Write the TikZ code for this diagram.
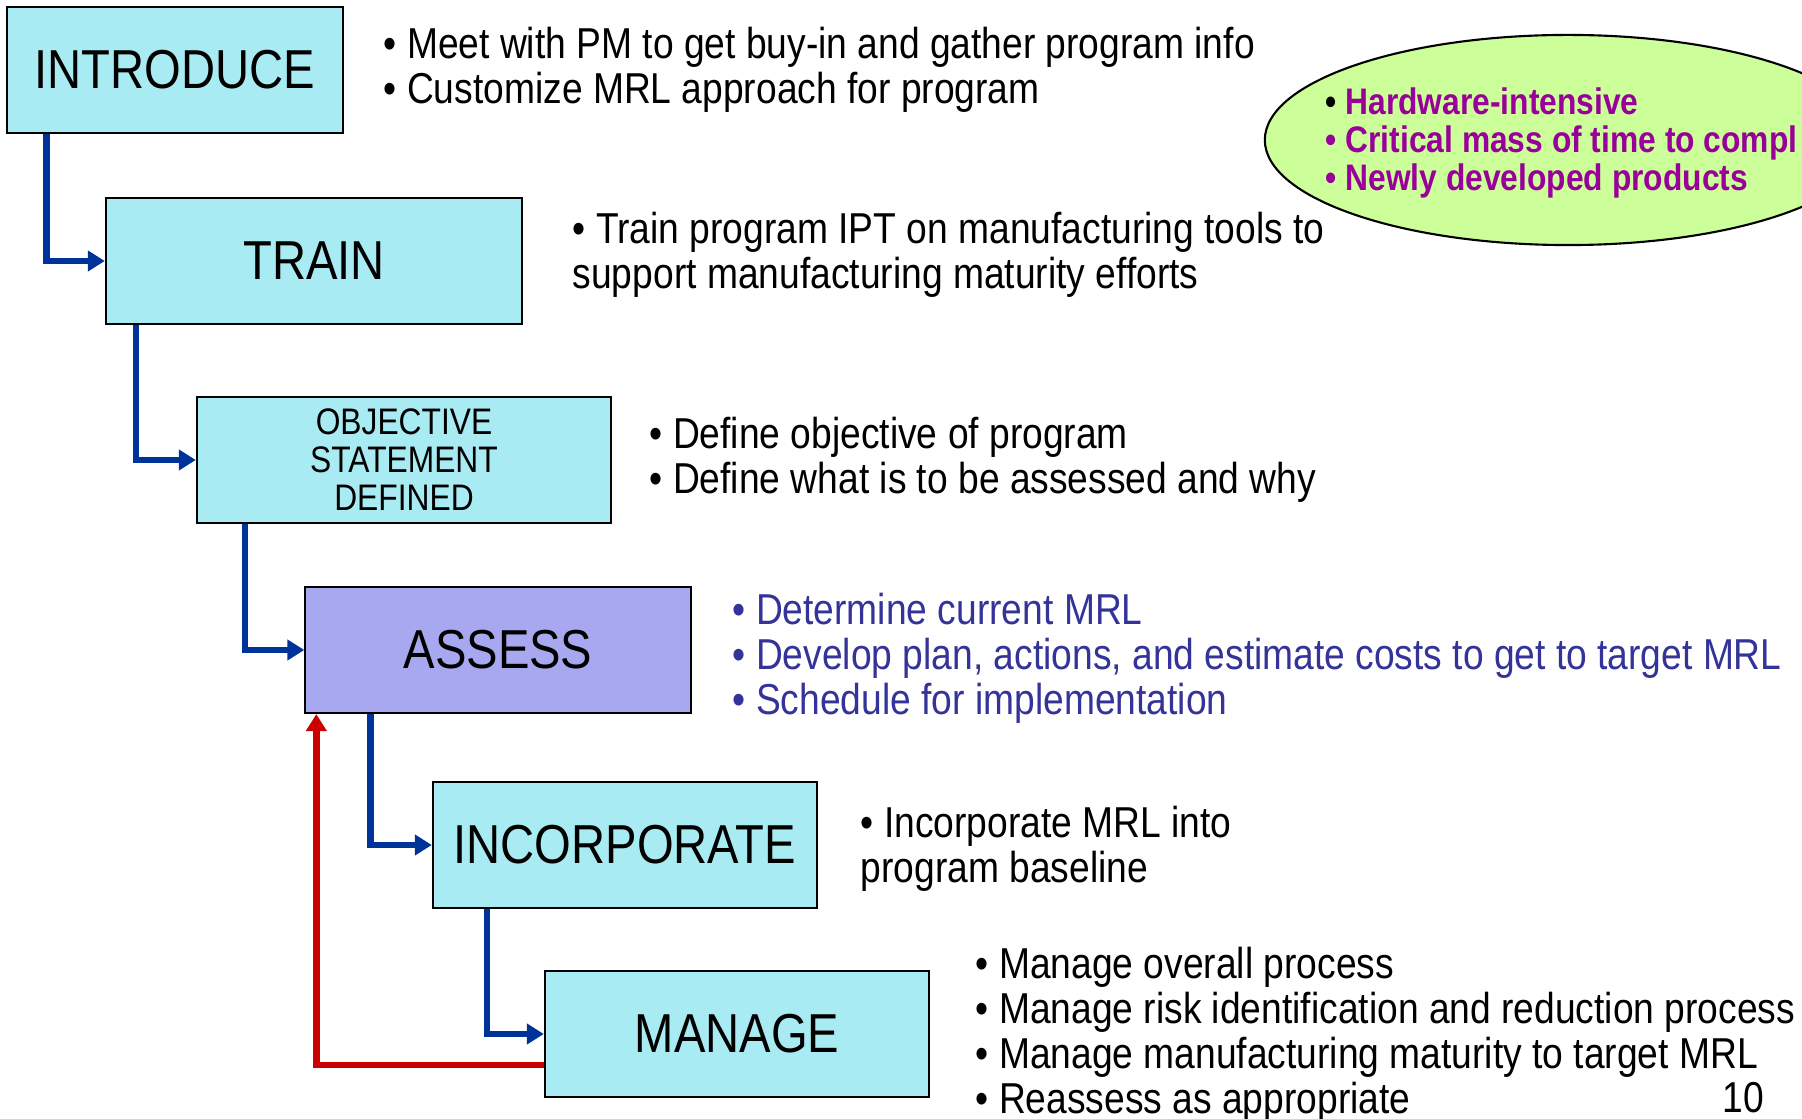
\documentclass[tikz,border=0pt]{standalone}
\usepackage{fontspec}
\setmainfont{Liberation Sans}[FakeStretch=0.86]
\usetikzlibrary{arrows.meta, calc}
\definecolor{stagecyan}{RGB}{169,235,243}
\definecolor{assesslilac}{RGB}{168,168,240}
\definecolor{flowblue}{RGB}{0,51,153}
\definecolor{loopred}{RGB}{204,0,0}
\definecolor{assesstext}{RGB}{51,51,153}
\definecolor{ovalgreen}{RGB}{204,255,153}
\definecolor{ovalpurple}{RGB}{153,0,153}

\begin{document}
\begin{tikzpicture}[
    x=0.01cm, y=-0.01cm,
    line join=miter,
    stage/.style={draw=black, line width=0.6pt, fill=stagecyan,
        minimum height=1.26cm, inner sep=0pt,
        font=\fontsize{15.6}{18}\selectfont},
    body/.style={anchor=west, inner sep=0pt, align=left,
        font=\fontsize{12.3}{12.75}\selectfont},
    flow/.style={draw=flowblue, line width=1.8pt,
        -{Triangle[length=0.17cm,width=0.2cm]}},
    back/.style={draw=loopred, line width=1.8pt,
        -{Triangle[length=0.17cm,width=0.2cm]}},
]

% ── Frame ───────────────────────────────────────────────────────────────────
\useasboundingbox (0,0) rectangle (1802,1119);
\clip (0,0) rectangle (1802,1119);

% ── Ellipse note (top right) ────────────────────────────────────────────────
\draw[fill=ovalgreen, draw=black, line width=0.6pt]
    (1568,140) ellipse [x radius=3.03cm, y radius=1.05cm];
\node[inner sep=0pt, anchor=west, align=left, text=ovalpurple,
      font=\bfseries\fontsize{10.5}{10.9}\selectfont] (crit) at (1325,143)
    {{\color{black}\textbullet}\ Hardware-intensive\\
     \textbullet\ Critical mass of time to compl\\
     \textbullet\ Newly developed products};

% ── Stage boxes ─────────────────────────────────────────────────────────────
\node[stage, minimum width=3.35cm] (intro) at (175,70)  {INTRODUCE};
\node[stage, minimum width=4.16cm] (train) at (314,261) {TRAIN};
\node[stage, minimum width=4.14cm, align=center,
      font=\fontsize{10.5}{10.8}\selectfont] (objective) at (404,460)
    {OBJECTIVE\\STATEMENT\\DEFINED};
\node[stage, minimum width=3.85cm, fill=assesslilac] (assess) at (498,650) {ASSESS};
\node[stage, minimum width=3.84cm] (incorp) at (625,845) {INCORPORATE};
\node[stage, minimum width=3.84cm] (manage) at (737,1034) {MANAGE};

% ── Descriptions ────────────────────────────────────────────────────────────
\node[body] (introtxt) at (383,70)
    {\textbullet\ Meet with PM to get buy-in and gather program info\\
     \textbullet\ Customize MRL approach for program};
\node[body] (traintxt) at (572,255)
    {\textbullet\ Train program IPT on manufacturing tools to\\
     support manufacturing maturity efforts};
\node[body] (objtxt) at (649,460)
    {\textbullet\ Define objective of program\\
     \textbullet\ Define what is to be assessed and why};
\node[body, text=assesstext] (assesstxt) at (732,658)
    {\textbullet\ Determine current MRL\\
     \textbullet\ Develop plan, actions, and estimate costs to get to target MRL\\
     \textbullet\ Schedule for implementation};
\node[body] (incorptxt) at (860,849)
    {\textbullet\ Incorporate MRL into\\
     program baseline};
\node[body] (managetxt) at (975,1035)
    {\textbullet\ Manage overall process\\
     \textbullet\ Manage risk identification and reduction process\\
     \textbullet\ Manage manufacturing maturity to target MRL\\
     \textbullet\ Reassess as appropriate};
\node[body, anchor=east] (pagenum) at (1765,1098) {10};

% ── Step connectors ─────────────────────────────────────────────────────────
\draw[flow] ($(intro.south west)+(40,0)$)     |- (train.west);
\draw[flow] ($(train.south west)+(31,0)$)     |- (objective.west);
\draw[flow] ($(objective.south west)+(49,0)$) |- (assess.west);
\draw[flow] ($(assess.south west)+(66,0)$)    |- (incorp.west);
\draw[flow] ($(incorp.south west)+(55,0)$)    |- (manage.west);

% ── Reassess loop ───────────────────────────────────────────────────────────
\draw[back] ($(manage.west)+(0,31)$) -| ($(assess.south west)+(12,0)$);

\end{tikzpicture}
\end{document}
